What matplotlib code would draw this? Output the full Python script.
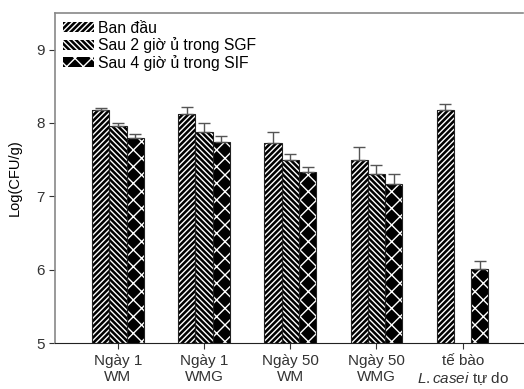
import matplotlib
matplotlib.use("Agg")
import matplotlib.pyplot as plt
import matplotlib.patches as mpatches
import numpy as np

plt.rcParams['font.family'] = ['Liberation Sans', 'DejaVu Sans']
plt.rcParams['mathtext.fontset'] = 'custom'
plt.rcParams['mathtext.it'] = 'Liberation Sans:italic'
plt.rcParams['mathtext.rm'] = 'Liberation Sans'
plt.rcParams['hatch.linewidth'] = 1.0

groups = ["Ngày 1\nWM", "Ngày 1\nWMG", "Ngày 50\nWM", "Ngày 50\nWMG", "tế bào\n$\\it{L{.}casei}$ tự do"]
series = ["Ban đầu", "Sau 2 giờ ủ trong SGF", "Sau 4 giờ ủ trong SIF"]
ban_dau = [8.18, 8.12, 7.73, 7.50, 8.18]
ban_dau_err = [0.02, 0.10, 0.15, 0.17, 0.08]
sgf = [7.96, 7.88, 7.50, 7.31, np.nan]
sgf_err = [0.04, 0.12, 0.07, 0.12, np.nan]
sif = [7.80, 7.74, 7.33, 7.17, 6.01]
sif_err = [0.05, 0.08, 0.07, 0.13, 0.11]

values = [ban_dau, sgf, sif]
errors = [ban_dau_err, sgf_err, sif_err]
hatches = ['//////', '\\\\\\\\\\\\', 'xx']
offsets = [-0.2, 0.0, 0.2]
width = 0.2

fig = plt.figure(figsize=(5.24, 3.89), dpi=100)
ax = fig.add_axes([0.105, 0.118, 0.893, 0.849])

x = np.arange(1, len(groups) + 1)
for vals, errs, h, off in zip(values, errors, hatches, offsets):
    v = np.array(vals, dtype=float)
    e = np.array(errs, dtype=float)
    ok = ~np.isnan(v)
    xs = x[ok] + off
    ax.bar(xs, v[ok] - 5, width, bottom=5, color='black', edgecolor='white',
           hatch=h, linewidth=0, zorder=2)
    ax.bar(xs, v[ok] - 5, width, bottom=5, fill=False, edgecolor='#222222',
           linewidth=0.8, zorder=3)
    ax.errorbar(xs, v[ok], yerr=[np.zeros(ok.sum()), e[ok]], fmt='none',
                ecolor='#555555', elinewidth=1.0, capsize=4, capthick=1.0, zorder=4)

ax.set_ylim(5, 9.5)
ax.set_xlim(0.27, 5.7)
ax.set_yticks([5, 6, 7, 8, 9])
ax.set_xticks(x)
ax.set_xticklabels(groups, fontsize=11)
ax.tick_params(axis='y', labelsize=11, direction='out', length=4, colors='#333333')
ax.tick_params(axis='x', direction='out', length=4, colors='#333333')
ax.set_ylabel("Log(CFU/g)", fontsize=10.5, labelpad=10)

ax.spines['right'].set_visible(False)
ax.spines['top'].set_color('#888888')
ax.spines['top'].set_linewidth(1.2)
ax.spines['left'].set_color('#888888')
ax.spines['left'].set_linewidth(1.2)
ax.spines['bottom'].set_color('#222222')

handles = [mpatches.Patch(facecolor='black', edgecolor='white', hatch=h, linewidth=0)
           for h in hatches]
ax.legend(handles, series, loc='upper left', frameon=False, fontsize=11.3,
          handlelength=2.0, handleheight=0.6, handletextpad=0.25,
          labelspacing=0.1, borderaxespad=0.1, bbox_to_anchor=(0.0, 1.0))

fig.savefig("out.png", dpi=100)
